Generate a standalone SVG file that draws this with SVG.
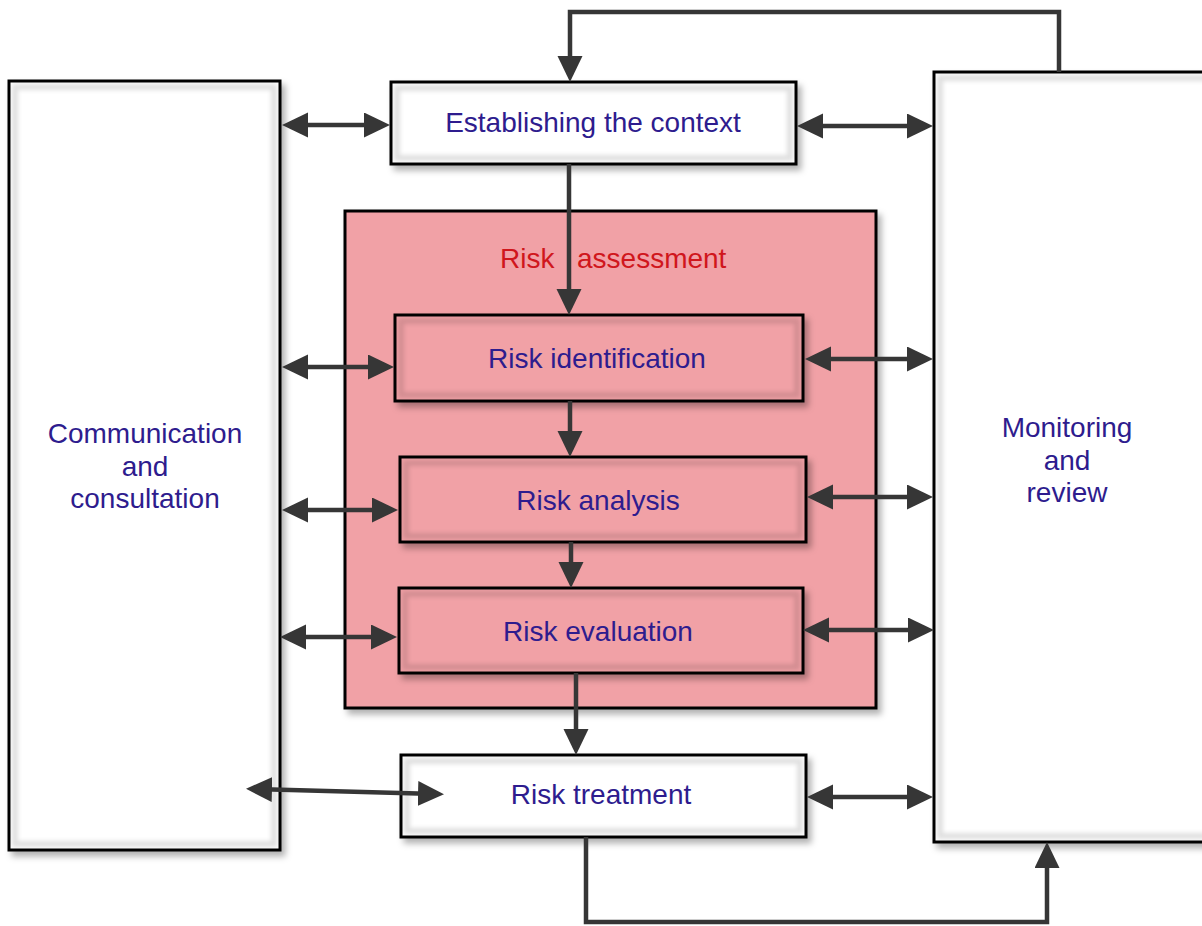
<svg xmlns="http://www.w3.org/2000/svg" width="1202" height="926" viewBox="0 0 1202 926">
  <defs>
    <style>
      .box { stroke: #000; stroke-width: 3; }
      .white { fill: #fff; }
      .pink { fill: #f1a1a6; }
      .glow { fill: none; stroke: #000; stroke-opacity: 0.12; stroke-width: 6; filter: url(#soft); }
      .lbl { font-family: "Liberation Sans", Arial, sans-serif; font-size: 28px; fill: #2e1c8e; text-anchor: middle; }
      .title { font-family: "Liberation Sans", Arial, sans-serif; font-size: 28px; fill: #d0161c; }
      .wire { fill: none; stroke: #363636; stroke-width: 4.5; }
      .one { marker-end: url(#head); }
      .two { marker-start: url(#head); marker-end: url(#head); }
    </style>
    <filter id="shadow" x="-10%" y="-10%" width="130%" height="130%">
      <feDropShadow dx="4" dy="5" stdDeviation="3" flood-color="#000" flood-opacity="0.3"/>
    </filter>
    <filter id="soft" x="-5%" y="-5%" width="110%" height="110%">
      <feGaussianBlur stdDeviation="2"/>
    </filter>
    <marker id="head" markerUnits="userSpaceOnUse" markerWidth="28" markerHeight="26" refX="18" refY="12.5" orient="auto-start-reverse">
      <path d="M0,0 L26,12.5 L0,25 Z" fill="#363636"/>
    </marker>
  </defs>

  <!-- side columns -->
  <g id="comm">
    <rect class="box white" x="9" y="81" width="271" height="769" filter="url(#shadow)"/>
    <rect class="glow" x="15" y="87" width="259" height="757"/>
    <text class="lbl"><tspan x="145" y="443">Communication</tspan><tspan x="145" y="476">and</tspan><tspan x="145" y="508">consultation</tspan></text>
  </g>

  <g id="monitor">
    <rect class="box white" x="934" y="72" width="300" height="770" filter="url(#shadow)"/>
    <rect class="glow" x="940" y="78" width="288" height="758"/>
    <text class="lbl"><tspan x="1067" y="437">Monitoring</tspan><tspan x="1067" y="470">and</tspan><tspan x="1067" y="502">review</tspan></text>
  </g>

  <!-- process steps -->
  <g id="context">
    <rect class="box white" x="391" y="82" width="405" height="82" filter="url(#shadow)"/>
    <rect class="glow" x="397" y="88" width="393" height="70"/>
    <text class="lbl" x="593" y="132">Establishing the context</text>
  </g>

  <g id="assessment">
    <rect class="box pink" x="345" y="211" width="531" height="497" filter="url(#shadow)"/>
    <text class="title" y="268"><tspan x="500">Risk</tspan><tspan x="577">assessment</tspan></text>
  </g>

  <g id="identification">
    <rect class="box pink" x="395" y="315" width="408" height="86" filter="url(#shadow)"/>
    <rect class="glow" x="401" y="321" width="396" height="74"/>
    <text class="lbl" x="597" y="368">Risk identification</text>
  </g>

  <g id="analysis">
    <rect class="box pink" x="400" y="457" width="406" height="85" filter="url(#shadow)"/>
    <rect class="glow" x="406" y="463" width="394" height="73"/>
    <text class="lbl" x="598" y="510">Risk analysis</text>
  </g>

  <g id="evaluation">
    <rect class="box pink" x="399" y="588" width="404" height="85" filter="url(#shadow)"/>
    <rect class="glow" x="405" y="594" width="392" height="73"/>
    <text class="lbl" x="598" y="641">Risk evaluation</text>
  </g>

  <g id="treatment">
    <rect class="box white" x="401" y="755" width="405" height="82" filter="url(#shadow)"/>
    <rect class="glow" x="407" y="761" width="393" height="70"/>
    <text class="lbl" x="601" y="804">Risk treatment</text>
  </g>

  <!-- connectors -->
  <g id="connectors">
    <!-- main flow -->
    <path class="wire one" d="M1059,72 V12 H570 V74"/>
    <path class="wire one" d="M569,164 V307"/>
    <path class="wire one" d="M570,401 V449"/>
    <path class="wire one" d="M571,542 V580"/>
    <path class="wire one" d="M576,673 V747"/>
    <path class="wire one" d="M586,837 V922 H1047 V850"/>

    <!-- communication and consultation links -->
    <path class="wire two" d="M290,125 H382"/>
    <path class="wire two" d="M290,367 H386"/>
    <path class="wire two" d="M290,510 H390"/>
    <path class="wire two" d="M288,637 H389"/>
    <path class="wire two" d="M254,789 L436,794"/>

    <!-- monitoring and review links -->
    <path class="wire two" d="M805,126 H925"/>
    <path class="wire two" d="M813,359 H925"/>
    <path class="wire two" d="M815,497 H925"/>
    <path class="wire two" d="M811,630 H926"/>
    <path class="wire two" d="M815,797 H925"/>
  </g>
</svg>
